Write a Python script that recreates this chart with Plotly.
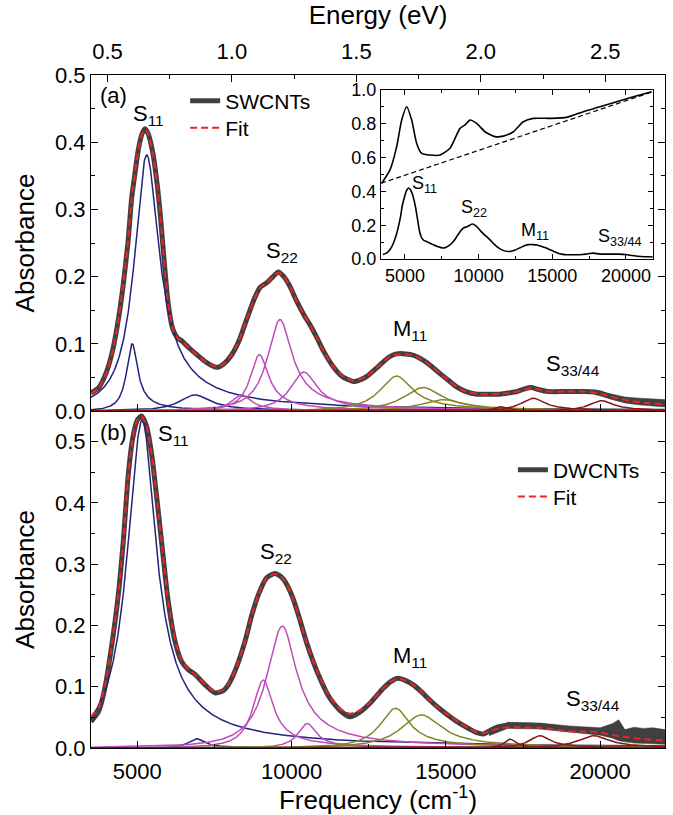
import numpy as np
import plotly.graph_objects as go

CM_PER_EV = 8065.54
F_RANGE = [3500, 22100]

# ---------------- (a) SWCNTs ----------------
sw_freq = [3500, 3750, 4000, 4200, 4400, 4550, 4700, 4820, 4920, 5030, 5150, 5250, 5350,
           5500, 5650, 5750, 5850, 6000, 6150, 6300, 6450, 6700, 6900, 7250, 7570, 7800,
           8050, 8300, 8550, 8800, 8980, 9200, 9400, 9570, 9750, 9950, 10150, 10400, 10600,
           10810, 11050, 11350, 11650, 12000, 12200, 12450, 12850, 13150, 13400, 13700,
           13950, 14250, 14550, 14800, 15100, 15350, 15650, 16000, 16400, 16750, 17050,
           17300, 17550, 17780, 18000, 18300, 18900, 19500, 20000, 20300, 20550, 21000,
           21500, 22100]
sw_abs = [0.027, 0.035, 0.058, 0.090, 0.140, 0.190, 0.252, 0.318, 0.352, 0.388, 0.412,
          0.420, 0.413, 0.385, 0.335, 0.290, 0.235, 0.160, 0.122, 0.109, 0.104, 0.093,
          0.085, 0.072, 0.065, 0.070, 0.083, 0.105, 0.137, 0.168, 0.184, 0.191, 0.200,
          0.207, 0.200, 0.185, 0.165, 0.143, 0.128, 0.110, 0.088, 0.066, 0.051, 0.044,
          0.046, 0.052, 0.068, 0.080, 0.085, 0.085, 0.083, 0.076, 0.066, 0.056, 0.045,
          0.036, 0.029, 0.025, 0.025, 0.025, 0.027, 0.029, 0.033, 0.035, 0.032, 0.029,
          0.029, 0.029, 0.027, 0.022, 0.019, 0.015, 0.013, 0.011]
sw_fit_abs = [0.026, 0.034, 0.057, 0.089, 0.139, 0.190, 0.252, 0.318, 0.352, 0.388, 0.412,
              0.419, 0.413, 0.385, 0.335, 0.290, 0.235, 0.160, 0.122, 0.109, 0.104, 0.093,
              0.085, 0.072, 0.066, 0.070, 0.083, 0.105, 0.137, 0.168, 0.184, 0.191, 0.200,
              0.206, 0.200, 0.185, 0.165, 0.143, 0.128, 0.110, 0.088, 0.066, 0.052, 0.045,
              0.047, 0.052, 0.068, 0.080, 0.084, 0.084, 0.083, 0.076, 0.066, 0.056, 0.045,
              0.036, 0.029, 0.026, 0.025, 0.026, 0.027, 0.029, 0.032, 0.034, 0.032, 0.029,
              0.029, 0.029, 0.026, 0.022, 0.019, 0.015, 0.012, 0.010]
# spread of the noisy high-frequency tail
sw_noise_freq = [19800, 20300, 20800, 21300, 21800, 22100]
sw_noise_lo = [0.025, 0.018, 0.012, 0.009, 0.007, 0.006]
sw_noise_hi = [0.031, 0.026, 0.021, 0.019, 0.018, 0.017]

# fitted bands: centre (cm-1), height, half width left / right (cm-1)
sw_bands = {
    "S11": dict(center=[4838, 5305, 6870], height=[0.100, 0.381, 0.024],
                hw_left=[220, 480, 600], hw_right=[230, 540, 650]),
    "S22": dict(center=[8383, 8960, 9624, 10400], height=[0.024, 0.084, 0.136, 0.058],
                hw_left=[400, 360, 480, 520], hw_right=[400, 390, 520, 560]),
    "M11": dict(center=[13405, 14267, 14915], height=[0.052, 0.035, 0.017],
                hw_left=[650, 760, 850], hw_right=[675, 810, 900]),
    "S33": dict(center=[16752, 17831, 20047], height=[0.0064, 0.019, 0.0153],
                hw_left=[230, 480, 480], hw_right=[250, 510, 520]),
}

# ---------------- (b) DWCNTs ----------------
dw_freq = [3500, 3750, 3950, 4150, 4385, 4550, 4709, 4850, 5000, 5140, 5300, 5467, 5650,
           5843, 6000, 6222, 6439, 6650, 6870, 7200, 7518, 7800, 7949, 8200, 8490, 8700,
           8921, 9193, 9460, 9650, 9786, 10000, 10217, 10500, 10865, 11244, 11600, 11892,
           12200, 12540, 12971, 13200, 13457, 13700, 13943, 14200, 14484, 14800, 15132,
           15450, 15780, 16000, 16212, 16450, 16644, 17000, 17293, 17700, 18156, 18500,
           18804, 19200, 19668, 20000, 20424, 20800, 21300, 22100]
dw_abs = [0.043, 0.060, 0.098, 0.160, 0.250, 0.340, 0.447, 0.505, 0.535, 0.542, 0.525,
          0.479, 0.400, 0.310, 0.240, 0.174, 0.141, 0.128, 0.120, 0.103, 0.090, 0.094,
          0.103, 0.130, 0.174, 0.215, 0.250, 0.278, 0.285, 0.280, 0.272, 0.250, 0.218,
          0.170, 0.120, 0.081, 0.060, 0.051, 0.058, 0.073, 0.0975, 0.108, 0.114, 0.110,
          0.103, 0.092, 0.078, 0.064, 0.051, 0.040, 0.0305, 0.025, 0.0229, 0.029, 0.0338,
          0.037, 0.0376, 0.037, 0.036, 0.034, 0.0316, 0.030, 0.0294, 0.027, 0.0212, 0.018,
          0.015, 0.013]
dw_fit_abs = [0.051, 0.066, 0.100, 0.160, 0.250, 0.340, 0.447, 0.505, 0.535, 0.541, 0.525,
              0.479, 0.400, 0.310, 0.240, 0.176, 0.143, 0.129, 0.120, 0.104, 0.092, 0.095,
              0.104, 0.130, 0.174, 0.215, 0.250, 0.278, 0.284, 0.280, 0.272, 0.250, 0.218,
              0.170, 0.121, 0.083, 0.063, 0.056, 0.061, 0.074, 0.0975, 0.108, 0.113, 0.110,
              0.103, 0.092, 0.078, 0.064, 0.052, 0.041, 0.031, 0.026, 0.024, 0.028, 0.031,
              0.034, 0.034, 0.033, 0.033, 0.030, 0.028, 0.027, 0.027, 0.025, 0.021, 0.018,
              0.015, 0.012]
dw_noise_freq = [16400, 17000, 18000, 19000, 20000, 20400, 20600, 20800, 21100, 21400,
                 21700, 22100]
dw_noise_lo = [0.020, 0.032, 0.031, 0.026, 0.021, 0.016, 0.012, 0.010, 0.008, 0.007,
               0.007, 0.006]
dw_noise_hi = [0.027, 0.042, 0.041, 0.036, 0.033, 0.040, 0.046, 0.030, 0.034, 0.032,
               0.033, 0.030]

dw_bands = {
    "S11": dict(center=[5160, 6924], height=[0.535, 0.015],
                hw_left=[580, 320], hw_right=[590, 350]),
    "S22": dict(center=[9083, 9700, 10509], height=[0.111, 0.199, 0.040],
                hw_left=[400, 600, 360], hw_right=[420, 620, 380]),
    "M11": dict(center=[13373, 14214], height=[0.065, 0.054],
                hw_left=[600, 800], hw_right=[600, 850]),
    "S33": dict(center=[17076, 18050, 19800], height=[0.0145, 0.020, 0.020],
                hw_left=[220, 420, 620], hw_right=[250, 450, 650]),
}

# ---------------- inset: raw absorbance and background ----------------
raw_freq = [3420, 3980, 4436, 4776, 5115, 5455, 5794, 6134, 6697, 7376, 8056, 8735, 9074,
            9414, 9867, 10431, 11110, 11676, 12355, 13034, 13713, 14846, 15978, 17110,
            18241, 19374, 20505, 21754]
raw_abs = [0.448, 0.527, 0.665, 0.822, 0.901, 0.822, 0.684, 0.625, 0.615, 0.615, 0.655,
           0.773, 0.793, 0.822, 0.802, 0.753, 0.724, 0.727, 0.753, 0.812, 0.832, 0.832,
           0.838, 0.872, 0.901, 0.931, 0.960, 0.990]
bg_freq = [3370, 21820]
bg_abs = [0.448, 0.990]

GROUP_COLORS = {"S11": "#23237d", "S22": "#bd4cbd", "M11": "#858526", "S33": "#8a1414"}
DATA_COLOR = "#404040"
FIT_COLOR = "#f02222"
FONT = "Liberation Sans, Arial, Helvetica, sans-serif"

# asymmetric Lorentzian-type band profile (heavier high-frequency wing)
TAIL_LEFT, TAIL_RIGHT = 1.15, 0.7
grid = np.linspace(F_RANGE[0], F_RANGE[1], 1500)


def band_profile(f, center, height, hw_left, hw_right):
    d = f - center
    out = np.empty_like(f)
    left = d < 0
    for side, hw, p in ((left, hw_left, TAIL_LEFT), (~left, hw_right, TAIL_RIGHT)):
        w = hw / np.sqrt(2 ** (1 / p) - 1)
        out[side] = height * (1 + (d[side] / w) ** 2) ** (-p)
    return out


fig = go.Figure()


def add_panel(xa, ya, freq, absorb, fit_abs, nf, nlo, nhi, bands, name, leg_data, leg_fit):
    # noisy tail of the measured spectrum
    fig.add_trace(go.Scatter(
        x=list(nf) + list(nf[::-1]), y=list(nhi) + list(nlo[::-1]),
        fill="toself", fillcolor=DATA_COLOR, line=dict(width=0.5, color=DATA_COLOR),
        mode="lines", showlegend=False, hoverinfo="skip", xaxis=xa, yaxis=ya))
    fig.add_trace(go.Scatter(
        x=freq, y=absorb, mode="lines", name=name, legend=leg_data,
        line=dict(color=DATA_COLOR, width=5, shape="spline", smoothing=0.6),
        xaxis=xa, yaxis=ya))
    for grp, b in bands.items():
        for c, h, wl, wr in zip(b["center"], b["height"], b["hw_left"], b["hw_right"]):
            fig.add_trace(go.Scatter(
                x=grid, y=band_profile(grid, c, h, wl, wr), mode="lines",
                line=dict(color=GROUP_COLORS[grp], width=1.5), showlegend=False,
                hoverinfo="skip", xaxis=xa, yaxis=ya))
    fig.add_trace(go.Scatter(
        x=freq, y=fit_abs, mode="lines", name="Fit", legend=leg_fit,
        line=dict(color=FIT_COLOR, width=2, dash="7px,4px", shape="spline", smoothing=0.6),
        xaxis=xa, yaxis=ya))


add_panel("x", "y", sw_freq, sw_abs, sw_fit_abs, sw_noise_freq, sw_noise_lo, sw_noise_hi,
          sw_bands, "SWCNTs", "legend", "legend3")
add_panel("x2", "y2", dw_freq, dw_abs, dw_fit_abs, dw_noise_freq, dw_noise_lo, dw_noise_hi,
          dw_bands, "DWCNTs", "legend2", "legend4")

# energy scale on top
e_range = [F_RANGE[0] / CM_PER_EV, F_RANGE[1] / CM_PER_EV]
fig.add_trace(go.Scatter(x=e_range, y=[0, 0], mode="lines", line=dict(width=0),
                         showlegend=False, hoverinfo="skip", xaxis="x3", yaxis="y"))

# inset
fig.add_trace(go.Scatter(x=raw_freq, y=raw_abs, mode="lines", showlegend=False,
                         line=dict(color="black", width=1.6, shape="spline", smoothing=0.6),
                         xaxis="x4", yaxis="y4"))
fig.add_trace(go.Scatter(x=bg_freq, y=bg_abs, mode="lines", showlegend=False,
                         line=dict(color="black", width=1.2, dash="5px,3px"),
                         xaxis="x4", yaxis="y4"))
fig.add_trace(go.Scatter(x=sw_freq, y=sw_abs, mode="lines", showlegend=False,
                         line=dict(color="black", width=1.6, shape="spline", smoothing=0.6),
                         xaxis="x4", yaxis="y4"))

SPLIT = 0.5007
ax = dict(showline=True, linecolor="black", linewidth=1.2, ticks="inside", ticklen=7,
          tickwidth=1.2, tickcolor="black", showgrid=False, zeroline=False,
          tickfont=dict(size=22, family=FONT))
xminor = dict(ticks="inside", ticklen=4, tickwidth=1.2, tickcolor="black", dtick=2500,
              showgrid=False)
yminor = dict(ticks="inside", ticklen=4, tickwidth=1.2, tickcolor="black", dtick=0.05,
              showgrid=False)


def legend_box(x, y):
    return dict(x=x, y=y, xanchor="left", yanchor="middle", bgcolor="rgba(0,0,0,0)",
                font=dict(size=21, family=FONT), itemwidth=30)


fig.update_layout(
    width=673, height=815,
    margin=dict(l=91, r=8, t=75, b=67, autoexpand=False),
    paper_bgcolor="white", plot_bgcolor="white",
    font=dict(family=FONT, size=22, color="black"),
    xaxis=dict(**ax, domain=[0, 1], anchor="y", range=F_RANGE, tick0=0, dtick=5000,
               showticklabels=False, minor=xminor),
    yaxis=dict(**ax, domain=[SPLIT, 1], anchor="x", range=[0, 0.5], tick0=0, dtick=0.1,
               tickformat=".1f", mirror="ticks", minor=yminor,
               title=dict(text="Absorbance", standoff=12)),
    xaxis2=dict(**ax, domain=[0, 1], anchor="y2", matches="x", range=F_RANGE, tick0=0,
                dtick=5000, tickformat="d", minor=xminor, ticklabelstandoff=3,
                title=dict(text="Frequency (cm<sup>-1</sup>)", standoff=13)),
    yaxis2=dict(**ax, domain=[0, SPLIT], anchor="x2", range=[0, 0.55], tick0=0, dtick=0.1,
                tickformat=".1f", mirror="ticks", minor=yminor,
                title=dict(text="Absorbance", standoff=12)),
    xaxis3=dict(**ax, overlaying="x", side="top", anchor="y", range=e_range, tick0=0,
                dtick=0.5, tickformat=".1f", ticklabelstandoff=6,
                minor=dict(ticks="inside", ticklen=4, tickwidth=1.2, tickcolor="black",
                           dtick=0.25, showgrid=False),
                title=dict(text="Energy (eV)", standoff=12)),
    xaxis4=dict(showline=True, linecolor="black", linewidth=1.1, ticks="inside",
                ticklen=5, tickwidth=1, tickcolor="black", showgrid=False, zeroline=False,
                mirror="ticks", domain=[0.5052, 0.9786], anchor="y4", range=[3370, 21820],
                tick0=0, dtick=5000, tickformat="d", tickfont=dict(size=18, family=FONT),
                minor=dict(ticks="inside", ticklen=3, tickcolor="black", dtick=2500,
                           showgrid=False)),
    yaxis4=dict(showline=True, linecolor="black", linewidth=1.1, ticks="inside",
                ticklen=5, tickwidth=1, tickcolor="black", showgrid=False, zeroline=False,
                mirror="ticks", domain=[0.7266, 0.9777], anchor="x4", range=[0, 1.0],
                tick0=0, dtick=0.2, tickformat=".1f", tickfont=dict(size=18, family=FONT),
                minor=dict(ticks="inside", ticklen=3, tickcolor="black", dtick=0.1,
                           showgrid=False)),
    legend=legend_box(0.164, 0.9614),
    legend3=legend_box(0.164, 0.9212),
    legend2=legend_box(0.735, 0.4131),
    legend4=legend_box(0.735, 0.3730),
)

labels = [
    # (text, x, y, xref, yref, size, xanchor)
    ("(a)", 3727, 0.470, "x", "y", 22, "left"),
    ("S<sub>11</sub>", 5376, 0.440, "x", "y", 22, "center"),
    ("S<sub>22</sub>", 9688, 0.237, "x", "y", 22, "center"),
    ("M<sub>11</sub>", 13836, 0.120, "x", "y", 22, "center"),
    ("S<sub>33/44</sub>", 19117, 0.068, "x", "y", 22, "center"),
    ("(b)", 3727, 0.515, "x2", "y2", 22, "left"),
    ("S<sub>11</sub>", 6157, 0.511, "x2", "y2", 22, "center"),
    ("S<sub>22</sub>", 9494, 0.319, "x2", "y2", 22, "center"),
    ("M<sub>11</sub>", 13836, 0.149, "x2", "y2", 22, "center"),
    ("S<sub>33/44</sub>", 19765, 0.078, "x2", "y2", 22, "center"),
    ("S<sub>11</sub>", 6358, 0.44, "x4", "y4", 18, "center"),
    ("S<sub>22</sub>", 9685, 0.30, "x4", "y4", 18, "center"),
    ("M<sub>11</sub>", 13827, 0.16, "x4", "y4", 18, "center"),
    ("S<sub>33/44</sub>", 19598, 0.13, "x4", "y4", 18, "center"),
]
for text, x, y, xr, yr, size, xa in labels:
    fig.add_annotation(text=text, x=x, y=y, xref=xr, yref=yr, showarrow=False,
                       xanchor=xa, yanchor="middle", font=dict(size=size, family=FONT))

fig.write_html("out.html")
